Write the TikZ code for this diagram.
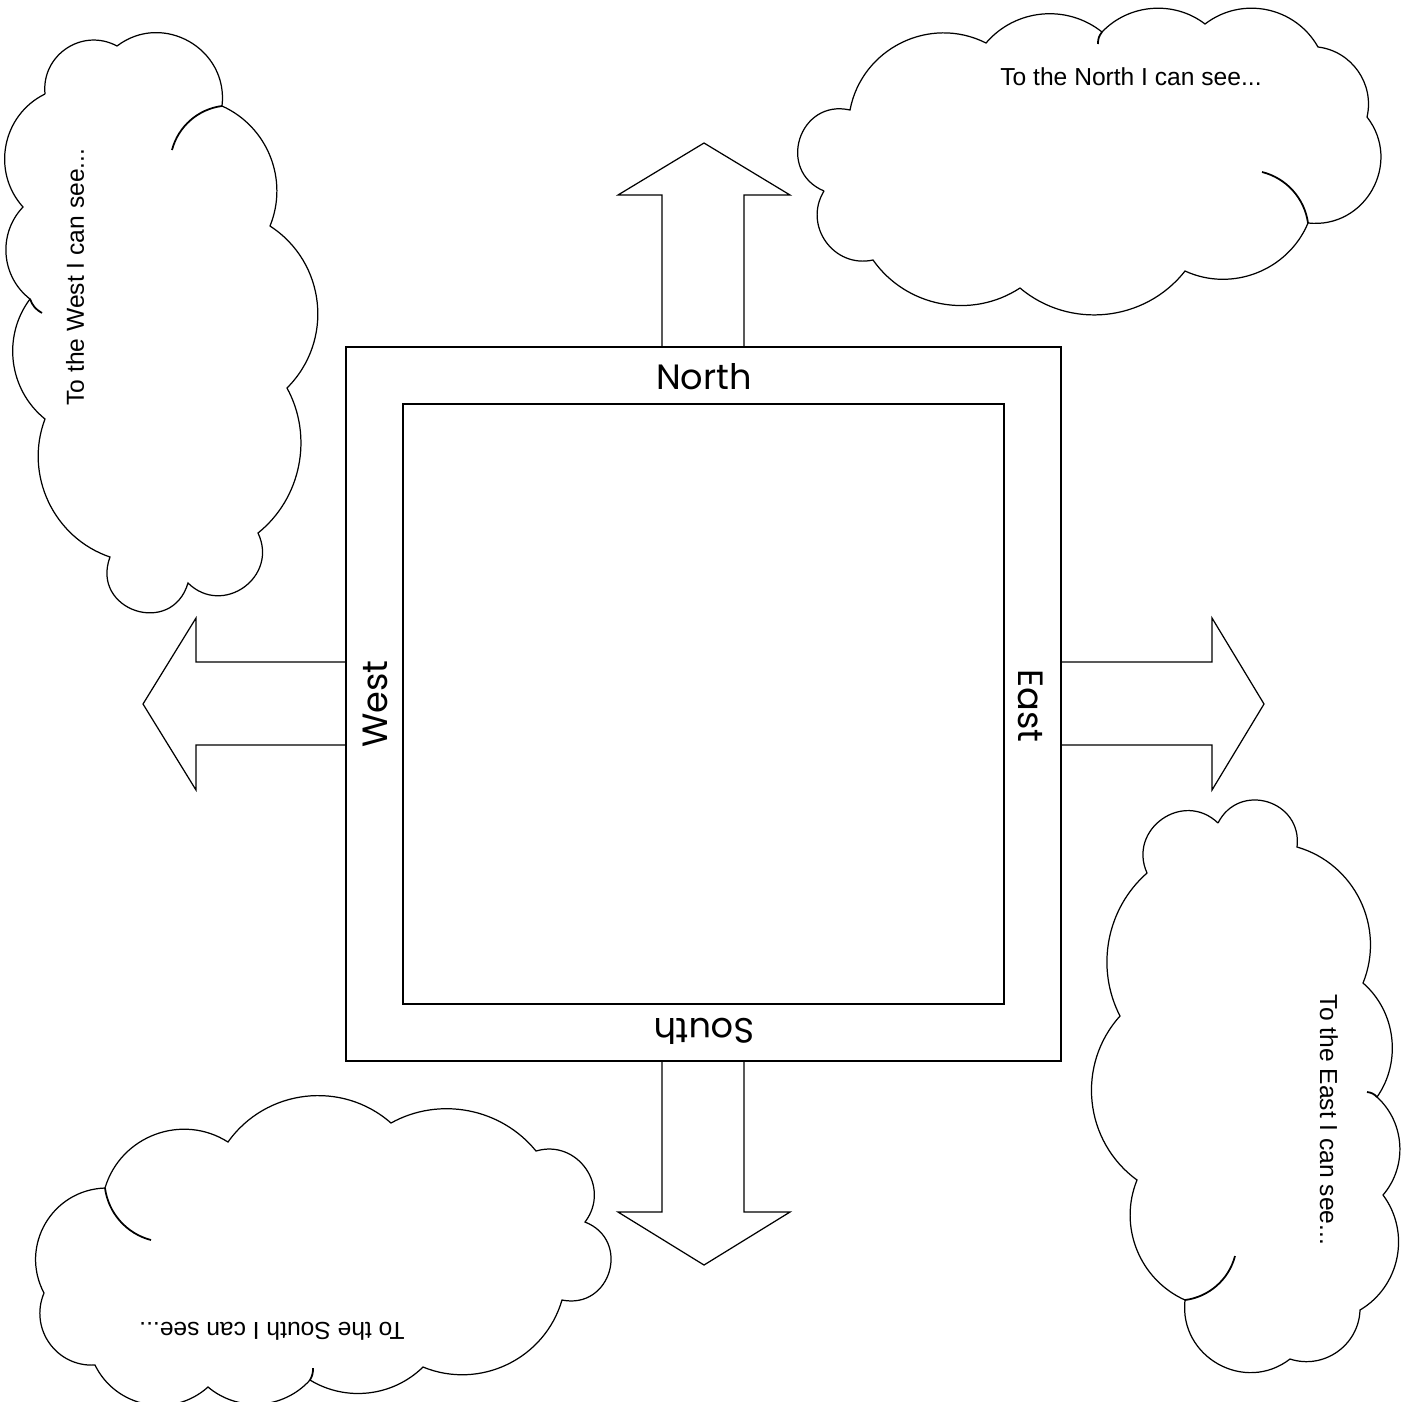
\documentclass[tikz,border=0pt]{standalone}
\usepackage{fontspec}
\newfontfamily\compassfont{Poppins}
\newfontfamily\cloudfont{Liberation Sans}

\begin{document}
\begin{tikzpicture}[x=0.1mm,y=-0.1mm,
  compassbox/.style={line width=0.5pt},
  bigarrow/.style={line width=0.35pt,line join=miter},
  cloudline/.style={line width=0.35pt},
  curl/.style={line width=0.5pt},
  compasslabel/.style={font=\compassfont\fontsize{10}{12}\selectfont,inner sep=0pt},
  seetext/.style={font=\cloudfont\fontsize{7}{8}\selectfont,inner sep=0pt}]

\useasboundingbox (0,0) rectangle (1405,1401);

% the frame
\draw[compassbox] (346,347) rectangle (1061,1061);
\draw[compassbox] (403,404) rectangle (1004,1004);

\draw (704,377) node[compasslabel] (north) {North};
\draw (375,704) node[compasslabel,rotate=90] (west) {West};
\draw (1031,706) node[compasslabel,rotate=-90] (east) {East};
\draw (704,1031) node[compasslabel,rotate=180] (south) {South};

% the four arrows
\draw[bigarrow] (662,347) -- (662,195) -- (618,195) -- (704,143) -- (790,195) -- (744,195) -- (744,347);
\draw[bigarrow] (662,1061) -- (662,1212) -- (618,1212) -- (704,1265) -- (790,1212) -- (744,1212) -- (744,1061);
\draw[bigarrow] (346,662) -- (196,662) -- (196,618) -- (143,704) -- (196,790) -- (196,745) -- (346,745);
\draw[bigarrow] (1061,662) -- (1212,662) -- (1212,618) -- (1264,704) -- (1212,790) -- (1212,745) -- (1061,745);

% clouds
\draw[cloudline] (824,191) to[bend left=85,looseness=1.57] (850,110)
  to[bend left=53,looseness=1.06] (986,43)
  to[bend left=44,looseness=0.99] (1102,32)
  to[bend left=42,looseness=0.97] (1205,24)
  to[bend left=49,looseness=1.03] (1318,47)
  to[bend left=48,looseness=1.02] (1367,117)
  to[bend left=67,looseness=1.22] (1308,223)
  to[bend left=46,looseness=1.0] (1185,271)
  to[bend left=46,looseness=1.0] (1020,288)
  to[bend left=44,looseness=0.99] (873,260)
  to[bend left=67,looseness=1.22] (824,191);
\draw[curl] (1098,44) to[bend left=20] (1102,32);
\draw[curl] (1262,172) to[bend left=34,looseness=0.93] (1308,223);
\draw (1131,77) node[seetext] (seenorth) {To the North I can see...};

\draw[cloudline] (45,94) to[bend left=62,looseness=1.16] (117,46)
  to[bend left=67,looseness=1.22] (222,106)
  to[bend left=44,looseness=0.99] (270,226)
  to[bend left=51,looseness=1.05] (287,388)
  to[bend left=40,looseness=0.96] (258,533)
  to[bend left=80,looseness=1.45] (188,583)
  to[bend left=92,looseness=1.77] (110,557)
  to[bend left=46,looseness=1.0] (45,419)
  to[bend left=44,looseness=0.99] (30,299)
  to[bend left=48,looseness=1.02] (23,207)
  to[bend left=53,looseness=1.06] (45,94);
\draw[curl] (172,150) to[bend left=34,looseness=0.93] (222,106);
\draw[curl] (42,313) to[bend left=20] (30,299);
\draw (75,277) node[seetext,rotate=90] (seewest) {To the West I can see...};

\draw[cloudline] (1218,823) to[bend left=80,looseness=1.45] (1297,847)
  to[bend left=48,looseness=1.02] (1363,983)
  to[bend left=42,looseness=0.97] (1377,1097)
  to[bend left=44,looseness=0.99] (1383,1195)
  to[bend left=48,looseness=1.02] (1360,1310)
  to[bend left=53,looseness=1.06] (1290,1359)
  to[bend left=67,looseness=1.22] (1185,1300)
  to[bend left=44,looseness=0.99] (1137,1180)
  to[bend left=48,looseness=1.02] (1120,1016)
  to[bend left=38,looseness=0.95] (1147,873)
  to[bend left=79,looseness=1.42] (1218,823);
\draw[curl] (1235,1256) to[bend left=34,looseness=0.93] (1185,1300);
\draw[curl] (1367,1092) to[bend left=20] (1377,1097);
\draw (1329,1120) node[seetext,rotate=-90] (seeeast) {To the East I can see...};

\draw[cloudline] (105,1188) to[bend right=58,looseness=1.12] (44,1293)
  to[bend right=58,looseness=1.12] (95,1365)
  to[bend right=53,looseness=1.06] (208,1387)
  to[bend right=44,looseness=0.99] (310,1380)
  to[bend right=38,looseness=0.95] (423,1367)
  to[bend right=48,looseness=1.02] (562,1300)
  to[bend right=85,looseness=1.57] (585,1222)
  to[bend right=72,looseness=1.29] (536,1151)
  to[bend right=40,looseness=0.96] (391,1123)
  to[bend right=48,looseness=1.02] (228,1142)
  to[bend right=53,looseness=1.06] (105,1188);
\draw[curl] (105,1188) to[bend right=34,looseness=0.93] (151,1240);
\draw[curl] (313,1368) to[bend left=15] (310,1380);
\draw (272,1331) node[seetext,rotate=180] (seesouth) {To the South I can see...};
\end{tikzpicture}
\end{document}
